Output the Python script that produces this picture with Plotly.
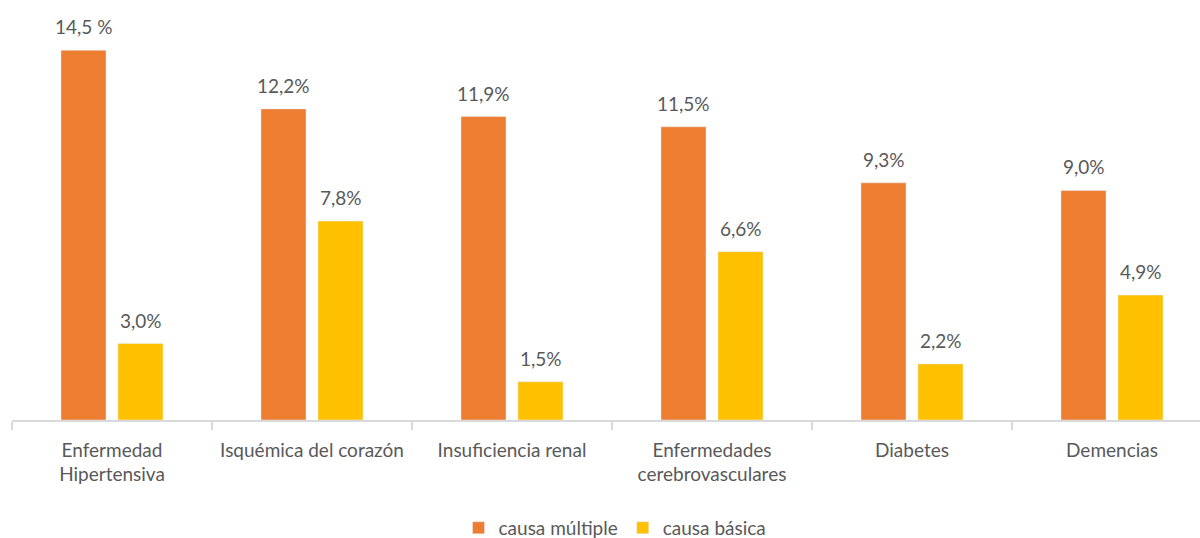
import plotly.graph_objects as go

categories = ["Enfermedad<br>Hipertensiva", "Isquémica del corazón", "Insuficiencia renal",
              "Enfermedades<br>cerebrovasculares", "Diabetes", "Demencias"]
multiple = [14.5, 12.2, 11.9, 11.5, 9.3, 9.0]
basica = [3.0, 7.8, 1.5, 6.6, 2.2, 4.9]
multiple_labels = ["14,5 %", "12,2%", "11,9%", "11,5%", "9,3%", "9,0%"]
basica_labels = ["3,0%", "7,8%", "1,5%", "6,6%", "2,2%", "4,9%"]

FONT = "Lato"
TXT = "#595959"
ORANGE = "#ED7D31"
YELLOW = "#FFC000"
FS = 19

fig = go.Figure()
fig.add_trace(go.Bar(x=categories, y=multiple, name="causa múltiple", marker_color=ORANGE))
fig.add_trace(go.Bar(x=categories, y=basica, name="causa básica", marker_color=YELLOW))

annotations = []
for i, (vm, vb, lm, lb) in enumerate(zip(multiple, basica, multiple_labels, basica_labels)):
    annotations.append(dict(x=i, y=vm, text=lm, xref="x", yref="y", showarrow=False,
                            xshift=-28.5, yshift=10, yanchor="bottom",
                            font=dict(family=FONT, size=FS, color=TXT)))
    annotations.append(dict(x=i, y=vb, text=lb, xref="x", yref="y", showarrow=False,
                            xshift=28.5, yshift=10, yanchor="bottom",
                            font=dict(family=FONT, size=FS, color=TXT)))

fig.update_layout(
    width=1200, height=538,
    margin=dict(l=12, r=0, t=0, b=118, autoexpand=False),
    plot_bgcolor="white", paper_bgcolor="white",
    barmode="group", bargap=0.43, bargroupgap=0.21,
    font=dict(family=FONT, size=FS, color=TXT),
    showlegend=True,
    legend=dict(orientation="h", xref="paper", x=0.5076, xanchor="center",
                yref="paper", y=-0.257, yanchor="middle",
                font=dict(family=FONT, size=FS, color=TXT),
                itemwidth=30, tracegroupgap=0),
    annotations=annotations,
    xaxis=dict(range=[-0.5, 5.44], showline=True, linecolor="#d9d9d9", linewidth=1.5,
               ticks="outside", tickson="boundaries", ticklen=8, tickcolor="#d9d9d9",
               tickwidth=1.5, tickfont=dict(family=FONT, size=FS, color=TXT),
               tickangle=0, ticklabelstandoff=12, showgrid=False, automargin=False),
    yaxis=dict(range=[0, 16.47], visible=False, showgrid=False, zeroline=False),
)

fig.write_html("out.html", config={"displayModeBar": False},
               post_script="document.body.style.margin='0';document.body.style.overflow='hidden';")
